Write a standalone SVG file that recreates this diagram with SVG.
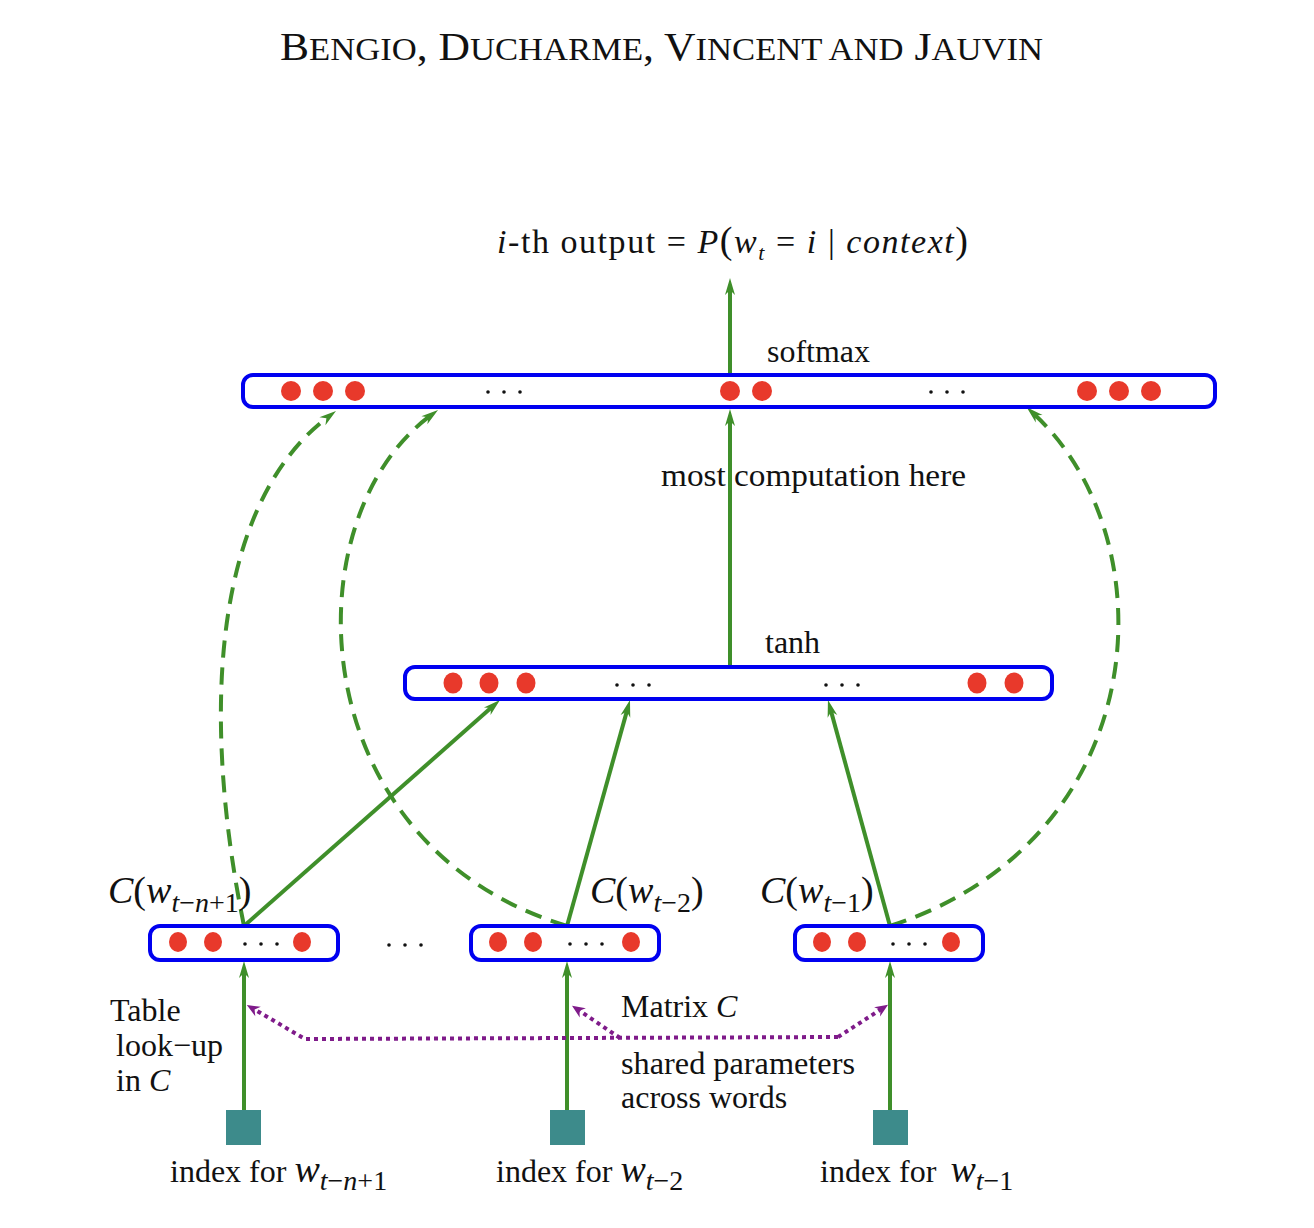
<svg xmlns="http://www.w3.org/2000/svg" width="1314" height="1228" viewBox="0 0 1314 1228">
<defs>
<style>
text{font-family:"Liberation Serif","Times New Roman",serif;fill:#111}
.t{font-size:32px}
.it{font-style:italic}
.box{fill:#fff;stroke:#0000f0;stroke-width:4}
.dot{fill:#e8392b}
.el{fill:#111}
.g{stroke:#3f8f2a;stroke-width:4;fill:none}
.gd{stroke:#3f8f2a;stroke-width:4;fill:none;stroke-dasharray:17 10}
.p{stroke:#7f1b8a;stroke-width:4;fill:none;stroke-dasharray:4 4}
.idx{fill:#3d8b8b}
</style>
<marker id="ga" viewBox="-18 -6 20 12" refX="-10" refY="0" markerWidth="20" markerHeight="12" markerUnits="userSpaceOnUse" orient="auto">
<path d="M0,0 L-17,-5 L-12,0 L-17,5 Z" fill="#3f8f2a"/>
</marker>
<marker id="pa" viewBox="-14 -6 16 12" refX="-6" refY="0" markerWidth="16" markerHeight="12" markerUnits="userSpaceOnUse" orient="auto">
<path d="M0,0 L-13,-5.5 L-9,0 L-13,5.5 Z" fill="#7f1b8a"/>
</marker>
</defs>
<rect width="1314" height="1228" fill="#fff"/>

<text x="280" y="60" textLength="763" lengthAdjust="spacingAndGlyphs" style="font-size:39px">B<tspan style="font-size:31px">ENGIO</tspan>, D<tspan style="font-size:31px">UCHARME</tspan>, V<tspan style="font-size:31px">INCENT AND</tspan> J<tspan style="font-size:31px">AUVIN</tspan></text>

<g id="output-label">
<text x="497" y="253" style="font-size:34px" textLength="471" lengthAdjust="spacing"><tspan class="it">i</tspan>-th output = <tspan class="it">P</tspan><tspan style="font-size:38px">(</tspan><tspan class="it">w</tspan><tspan class="it" style="font-size:22px" dy="7">t</tspan><tspan dy="-7">  =  </tspan><tspan class="it">i</tspan> | <tspan class="it">context</tspan><tspan style="font-size:38px">)</tspan></text>
</g>

<g id="connectors">
<line class="g" x1="730" y1="375" x2="730" y2="288" marker-end="url(#ga)"/>
<line class="g" x1="730" y1="667" x2="730" y2="419" marker-end="url(#ga)"/>
<line class="g" x1="244" y1="926" x2="492.5" y2="706.6" marker-end="url(#ga)"/>
<line class="g" x1="567" y1="926" x2="627.3" y2="709.6" marker-end="url(#ga)"/>
<line class="g" x1="890" y1="926" x2="830.6" y2="709.6" marker-end="url(#ga)"/>
<path class="gd" d="M244,926 C198,700 218,500 328,417" marker-end="url(#ga)"/>
<path class="gd" d="M567,926 C300,845 290,520 430,416" marker-end="url(#ga)"/>
<path class="gd" d="M890,926 C1155,840 1170,540 1034,414" marker-end="url(#ga)"/>
<line class="g" x1="244" y1="1110" x2="244" y2="971" marker-end="url(#ga)"/>
<line class="g" x1="567" y1="1110" x2="567" y2="971" marker-end="url(#ga)"/>
<line class="g" x1="890" y1="1110" x2="890" y2="971" marker-end="url(#ga)"/>
<path class="p" d="M838,1037 L305,1039 L252,1008" marker-end="url(#pa)"/>
<path class="p" d="M620,1038 L577,1009" marker-end="url(#pa)"/>
<path class="p" d="M838,1037 L883,1008" marker-end="url(#pa)"/>
</g>

<g id="softmax-layer">
<rect class="box" x="243" y="375" width="972" height="32" rx="10"/>
<circle class="dot" cx="291" cy="391" r="10"/>
<circle class="dot" cx="323" cy="391" r="10"/>
<circle class="dot" cx="355" cy="391" r="10"/>
<circle class="el" cx="488" cy="392" r="1.8"/>
<circle class="el" cx="504" cy="392" r="1.8"/>
<circle class="el" cx="520" cy="392" r="1.8"/>
<circle class="dot" cx="730" cy="391" r="10"/>
<circle class="dot" cx="762" cy="391" r="10"/>
<circle class="el" cx="931" cy="392" r="1.8"/>
<circle class="el" cx="947" cy="392" r="1.8"/>
<circle class="el" cx="963" cy="392" r="1.8"/>
<circle class="dot" cx="1087" cy="391" r="10"/>
<circle class="dot" cx="1119" cy="391" r="10"/>
<circle class="dot" cx="1151" cy="391" r="10"/>
<text x="767" y="362" class="t" textLength="103" lengthAdjust="spacingAndGlyphs">softmax</text>
</g>

<text x="661" y="486" class="t" textLength="305" lengthAdjust="spacingAndGlyphs">most  computation here</text>

<g id="tanh-layer">
<rect class="box" x="405" y="667" width="647" height="32" rx="10"/>
<ellipse class="dot" cx="453" cy="683" rx="9.5" ry="10.5"/>
<ellipse class="dot" cx="489" cy="683" rx="9.5" ry="10.5"/>
<ellipse class="dot" cx="526" cy="683" rx="9.5" ry="10.5"/>
<circle class="el" cx="617" cy="685" r="1.8"/>
<circle class="el" cx="633" cy="685" r="1.8"/>
<circle class="el" cx="649" cy="685" r="1.8"/>
<circle class="el" cx="826" cy="685" r="1.8"/>
<circle class="el" cx="842" cy="685" r="1.8"/>
<circle class="el" cx="858" cy="685" r="1.8"/>
<ellipse class="dot" cx="977" cy="683" rx="9.5" ry="10.5"/>
<ellipse class="dot" cx="1014" cy="683" rx="9.5" ry="10.5"/>
<text x="765" y="653" class="t">tanh</text>
</g>

<g id="embed-1">
<rect class="box" x="150" y="926" width="188" height="34" rx="10"/>
<ellipse class="dot" cx="178" cy="942" rx="9" ry="10"/>
<ellipse class="dot" cx="213" cy="942" rx="9" ry="10"/>
<circle class="el" cx="245" cy="944" r="1.8"/>
<circle class="el" cx="261" cy="944" r="1.8"/>
<circle class="el" cx="277" cy="944" r="1.8"/>
<ellipse class="dot" cx="302" cy="942" rx="9" ry="10"/>
<text x="108" y="903" style="font-size:38px"><tspan class="it">C</tspan>(<tspan class="it">w</tspan><tspan dy="9" style="font-size:28px"><tspan class="it">t</tspan>−<tspan class="it">n</tspan>+1</tspan><tspan dy="-9">)</tspan></text>
</g>

<g id="embed-dots">
<circle class="el" cx="389" cy="945" r="1.8"/>
<circle class="el" cx="405" cy="945" r="1.8"/>
<circle class="el" cx="421" cy="945" r="1.8"/>
</g>

<g id="embed-2">
<rect class="box" x="471" y="926" width="188" height="34" rx="10"/>
<ellipse class="dot" cx="498" cy="942" rx="9" ry="10"/>
<ellipse class="dot" cx="533" cy="942" rx="9" ry="10"/>
<circle class="el" cx="570" cy="944" r="1.8"/>
<circle class="el" cx="586" cy="944" r="1.8"/>
<circle class="el" cx="602" cy="944" r="1.8"/>
<ellipse class="dot" cx="631" cy="942" rx="9" ry="10"/>
<text x="590" y="903" style="font-size:38px"><tspan class="it">C</tspan>(<tspan class="it">w</tspan><tspan dy="9" style="font-size:28px"><tspan class="it">t</tspan>−2</tspan><tspan dy="-9">)</tspan></text>
</g>

<g id="embed-3">
<rect class="box" x="795" y="926" width="188" height="34" rx="10"/>
<ellipse class="dot" cx="822" cy="942" rx="9" ry="10"/>
<ellipse class="dot" cx="857" cy="942" rx="9" ry="10"/>
<circle class="el" cx="893" cy="944" r="1.8"/>
<circle class="el" cx="909" cy="944" r="1.8"/>
<circle class="el" cx="925" cy="944" r="1.8"/>
<ellipse class="dot" cx="951" cy="942" rx="9" ry="10"/>
<text x="760" y="903" style="font-size:38px"><tspan class="it">C</tspan>(<tspan class="it">w</tspan><tspan dy="9" style="font-size:28px"><tspan class="it">t</tspan>−1</tspan><tspan dy="-9">)</tspan></text>
</g>

<g id="labels">
<text x="110" y="1021" class="t">Table</text>
<text x="116" y="1056" class="t">look−up</text>
<text x="116" y="1091" class="t">in <tspan class="it">C</tspan></text>
<text x="621" y="1017" class="t">Matrix <tspan class="it">C</tspan></text>
<text x="621" y="1074" class="t" textLength="234" lengthAdjust="spacingAndGlyphs">shared parameters</text>
<text x="621" y="1108" class="t">across words</text>
</g>

<g id="index-1">
<rect class="idx" x="226" y="1110" width="35" height="35"/>
<text x="170" y="1182" class="t">index for <tspan class="it" style="font-size:38px">w</tspan><tspan dy="8" style="font-size:28px"><tspan class="it">t</tspan>−<tspan class="it">n</tspan>+1</tspan></text>
</g>
<g id="index-2">
<rect class="idx" x="550" y="1110" width="35" height="35"/>
<text x="496" y="1182" class="t">index for <tspan class="it" style="font-size:38px">w</tspan><tspan dy="8" style="font-size:28px"><tspan class="it">t</tspan>−2</tspan></text>
</g>
<g id="index-3">
<rect class="idx" x="873" y="1110" width="35" height="35"/>
<text x="820" y="1182" class="t">index for <tspan class="it" style="font-size:38px" dx="6">w</tspan><tspan dy="8" style="font-size:28px"><tspan class="it">t</tspan>−1</tspan></text>
</g>
</svg>
